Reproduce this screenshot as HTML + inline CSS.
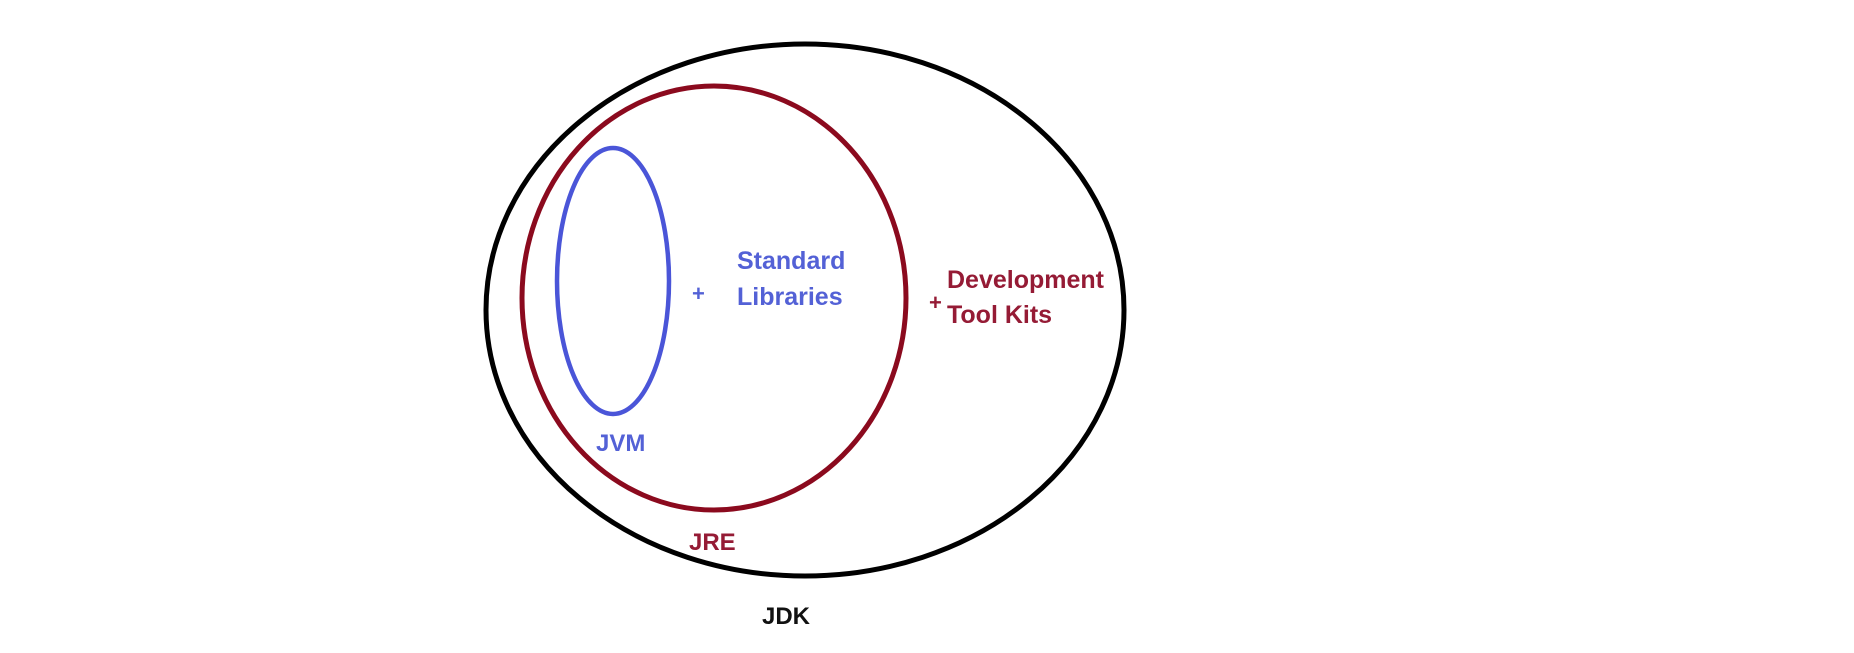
<!DOCTYPE html>
<html><head><style>
html,body{margin:0;padding:0;background:#fff;}
svg text{font-family:"Liberation Sans",sans-serif;font-weight:bold;}
</style></head>
<body>
<svg width="1854" height="648" viewBox="0 0 1854 648" xmlns="http://www.w3.org/2000/svg">
<rect width="1854" height="648" fill="#fff"/>
<ellipse cx="805" cy="310" rx="319" ry="266" fill="none" stroke="#000" stroke-width="5"/>
<ellipse cx="714" cy="298" rx="192" ry="212" fill="none" stroke="#8b0a1e" stroke-width="5"/>
<ellipse cx="613" cy="281" rx="56" ry="133" fill="none" stroke="#4a55d8" stroke-width="4.5"/>
<text x="692" y="301" font-size="22" fill="#5361d6">+</text>
<text x="737" y="269" font-size="25" fill="#5361d6">Standard</text>
<text x="737" y="305" font-size="25" fill="#5361d6">Libraries</text>
<text x="929" y="310" font-size="22" fill="#951b35">+</text>
<text x="947" y="288" font-size="25" fill="#951b35">Development</text>
<text x="947" y="323" font-size="25" fill="#951b35">Tool Kits</text>
<text x="596" y="451" font-size="24" fill="#5361d6">JVM</text>
<text x="689" y="550" font-size="24" fill="#951b35">JRE</text>
<text x="762" y="624" font-size="24" fill="#111">JDK</text>
</svg>
</body></html>
